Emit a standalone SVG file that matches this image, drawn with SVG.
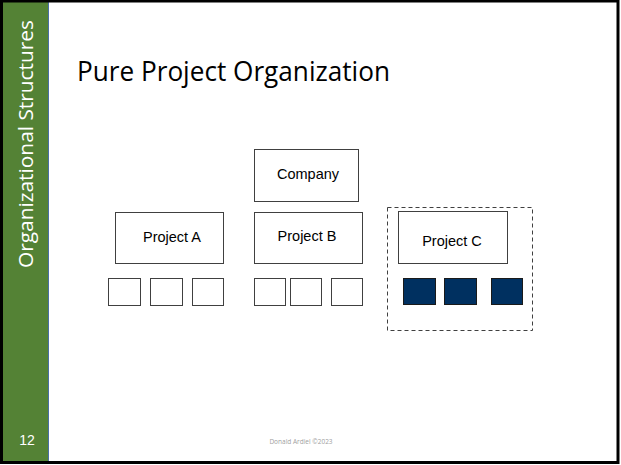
<svg xmlns="http://www.w3.org/2000/svg" width="621" height="465" viewBox="0 0 621 465">
<style>
.box{fill:#fff;stroke:#404040;stroke-width:1}
.dark{fill:#003060;stroke:#1a1a1a;stroke-width:1}
.lbl{font-family:"Liberation Sans",Arial,sans-serif;font-size:14.5px;fill:#000;text-anchor:middle}
</style>
<rect x="0" y="0" width="621" height="465" fill="#fff"/>
<rect x="3" y="2" width="45" height="459" fill="#548235"/>
<line x1="48.5" y1="2" x2="48.5" y2="461" stroke="#4a6fa5" stroke-width="1"/>
<rect x="1.5" y="1" width="616.5" height="461.5" fill="none" stroke="#000" stroke-width="3"/>
<text transform="translate(33,268) rotate(-90)" font-family="'Open Sans','Noto Sans',sans-serif" font-size="20" fill="#fff" textLength="248" lengthAdjust="spacingAndGlyphs">Organizational Structures</text>
<text x="27" y="445" font-family="'Liberation Sans',Arial,sans-serif" font-size="14" fill="#fff" text-anchor="middle">12</text>
<text x="77" y="81" font-family="'Open Sans','Noto Sans',sans-serif" font-size="27.5" fill="#000" textLength="313" lengthAdjust="spacingAndGlyphs">Pure Project Organization</text>
<text x="301" y="444" font-family="'Open Sans','Noto Sans',sans-serif" font-size="6.5" fill="#a0a0a0" text-anchor="middle">Donald Ardiel ©2023</text>
<g id="company"><rect class="box" x="254.5" y="149.5" width="104" height="52"/><text class="lbl" x="308" y="179">Company</text></g>
<g id="projectA"><rect class="box" x="115.5" y="212.5" width="108" height="51"/><text class="lbl" x="172" y="242">Project A</text></g>
<g id="projectB"><rect class="box" x="254.5" y="212.5" width="108" height="51"/><text class="lbl" x="307" y="241">Project B</text></g>
<g id="teamA">
<rect class="box" x="108.5" y="278.5" width="32" height="27"/>
<rect class="box" x="150.5" y="278.5" width="32" height="27"/>
<rect class="box" x="192.5" y="278.5" width="31" height="27"/>
</g>
<g id="teamB">
<rect class="box" x="254.5" y="278.5" width="31" height="27"/>
<rect class="box" x="290.5" y="278.5" width="31" height="27"/>
<rect class="box" x="331.5" y="278.5" width="31" height="27"/>
</g>
<g id="projectCgroup">
<rect x="387.5" y="207.5" width="145" height="123" fill="none" stroke="#404040" stroke-width="1" stroke-dasharray="4,3"/>
<g id="projectC"><rect class="box" x="398.5" y="211.5" width="109" height="52"/><text class="lbl" x="452" y="246">Project C</text></g>
<g id="teamC">
<rect class="dark" x="403.5" y="278.5" width="32" height="26"/>
<rect class="dark" x="444.5" y="278.5" width="32" height="26"/>
<rect class="dark" x="491.5" y="278.5" width="31" height="26"/>
</g>
</g>
<g id="connectors"></g>
</svg>
